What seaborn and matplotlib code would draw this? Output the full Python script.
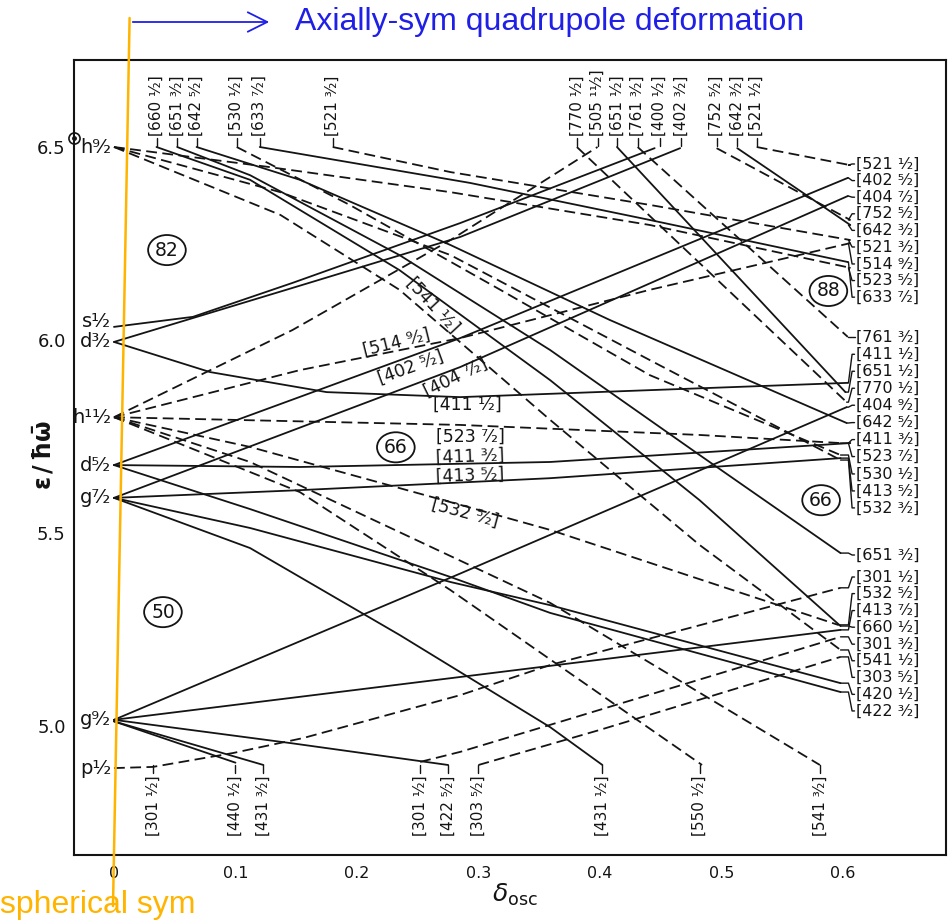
import numpy as np
import pandas as pd
import matplotlib
matplotlib.use("Agg")
import matplotlib.pyplot as plt
import seaborn as sns
from matplotlib.patches import Ellipse, FancyArrowPatch
from matplotlib.lines import Line2D
from matplotlib.ticker import MultipleLocator, FixedLocator

# ---------------- data ----------------
sph_labels = ["h 9/2", "s 1/2", "d 3/2", "h 11/2", "d 5/2", "g 7/2", "g 9/2", "p 1/2"]
sph_label_E = [6.500, 6.047, 5.995, 5.800, 5.676, 5.591, 5.016, 4.891]

orb_names = [
    "[404 9/2]", "[413 7/2]", "[422 5/2]", "[431 3/2]", "[440 1/2]",
    "[402 5/2]", "[411 3/2]", "[413 5/2]", "[404 7/2]", "[431 1/2]",
    "[422 3/2]", "[420 1/2]", "[400 1/2]", "[402 3/2]", "[411 1/2]",
    "[660 1/2]", "[651 3/2]", "[642 5/2]", "[633 7/2]", "[651 1/2]", "[642 3/2]",
    "[541 1/2]", "[532 3/2]", "[523 5/2]", "[530 1/2]", "[521 3/2]", "[521 1/2]",
    "[752 5/2]", "[761 3/2]", "[770 1/2]",
    "[505 11/2]", "[514 9/2]", "[523 7/2]", "[532 5/2]", "[541 3/2]", "[550 1/2]",
    "[301 1/2]", "[301 3/2]", "[303 5/2]",
]
orb_parity = ["+"] * 21 + ["-"] * 18
orb_delta = [
    [0, 0.285, 0.603], [0, 0.285, 0.598], [0, 0.147, 0.275], [0, 0.123], [0, 0.100],
    [0, 0.285, 0.604], [0, 0.153, 0.359, 0.606], [0, 0.153, 0.359, 0.598],
    [0, 0.285, 0.604], [0, 0.112, 0.235, 0.359, 0.402],
    [0, 0.112, 0.277, 0.359, 0.598], [0, 0.112, 0.277, 0.359, 0.598],
    [0, 0.065, 0.147, 0.285, 0.445], [0, 0.147, 0.285, 0.466],
    [0, 0.079, 0.175, 0.285, 0.604],
    [0.035, 0.112, 0.235, 0.359, 0.482, 0.598], [0.052, 0.112, 0.235, 0.359, 0.482, 0.598],
    [0.068, 0.153, 0.277, 0.408, 0.603], [0.120, 0.293, 0.441, 0.604],
    [0.414, 0.602], [0.513, 0.606],
    [0, 0.137, 0.235, 0.359, 0.482, 0.598], [0, 0.137, 0.277, 0.441, 0.598],
    [0, 0.128, 0.277, 0.441, 0.606], [0.101, 0.194, 0.318, 0.441, 0.598],
    [0.180, 0.277, 0.441, 0.606], [0.529, 0.606],
    [0.496, 0.606], [0.431, 0.604], [0.381, 0.603],
    [0, 0.147, 0.277, 0.398], [0, 0.153, 0.285, 0.441, 0.606], [0, 0.285, 0.482, 0.598],
    [0, 0.112, 0.285, 0.359, 0.596], [0, 0.112, 0.359, 0.581], [0, 0.153, 0.277, 0.484],
    [0, 0.032, 0.098, 0.156, 0.285, 0.359, 0.598], [0.252, 0.285, 0.359, 0.598],
    [0.300, 0.400, 0.598],
]
orb_energy = [
    [5.016, 5.395, 5.826], [5.016, 5.127, 5.249], [5.016, 4.955, 4.899], [5.012, 4.899], [5.012, 4.905],
    [5.676, 6.005, 6.420], [5.676, 5.671, 5.684, 5.733], [5.591, 5.611, 5.642, 5.694],
    [5.591, 5.930, 6.373], [5.591, 5.461, 5.236, 4.997, 4.899],
    [5.676, 5.562, 5.386, 5.293, 5.088], [5.591, 5.513, 5.373, 5.313, 5.111],
    [6.034, 6.060, 6.148, 6.303, 6.497], [5.995, 6.135, 6.267, 6.497],
    [5.995, 5.917, 5.865, 5.852, 5.889],
    [6.500, 6.415, 6.181, 5.896, 5.585, 5.259], [6.500, 6.427, 6.220, 5.974, 5.702, 5.448],
    [6.500, 6.415, 6.246, 6.052, 5.785], [6.500, 6.407, 6.311, 6.202],
    [6.500, 5.865], [6.497, 6.298],
    [6.500, 6.324, 6.130, 5.793, 5.469, 5.197], [6.500, 6.383, 6.220, 5.948, 5.689],
    [6.500, 6.448, 6.383, 6.298, 6.187], [6.500, 6.350, 6.130, 5.909, 5.702],
    [6.500, 6.435, 6.350, 6.259], [6.500, 6.453],
    [6.497, 6.311], [6.500, 6.008], [6.500, 5.839],
    [5.800, 6.026, 6.259, 6.500], [5.800, 5.922, 6.005, 6.130, 6.251], [5.800, 5.780, 5.754, 5.733],
    [5.800, 5.723, 5.573, 5.508, 5.262], [5.800, 5.684, 5.319, 4.899], [5.800, 5.606, 5.352, 4.899],
    [4.891, 4.894, 4.930, 4.969, 5.080, 5.158, 5.358], [4.907, 4.933, 5.003, 5.231],
    [4.899, 4.990, 5.179],
]

right_labels = ["[521 1/2]", "[402 5/2]", "[404 7/2]", "[752 5/2]", "[642 3/2]", "[521 3/2]",
                "[514 9/2]", "[523 5/2]", "[633 7/2]", "[761 3/2]", "[411 1/2]", "[651 1/2]",
                "[770 1/2]", "[404 9/2]", "[642 5/2]", "[411 3/2]", "[523 7/2]", "[530 1/2]",
                "[413 5/2]", "[532 3/2]", "[651 3/2]", "[301 1/2]", "[532 5/2]", "[413 7/2]",
                "[660 1/2]", "[301 3/2]", "[541 1/2]", "[303 5/2]", "[420 1/2]", "[422 3/2]"]
right_label_E = [6.456, 6.413, 6.370, 6.327, 6.284, 6.241, 6.197, 6.154, 6.111,
                 6.008, 5.963, 5.919, 5.875, 5.831, 5.786, 5.742, 5.698, 5.653, 5.609, 5.565,
                 5.443,
                 5.386, 5.343, 5.299, 5.256, 5.212, 5.169, 5.126, 5.082, 5.039]

top_labels = ["[660 1/2]", "[651 3/2]", "[642 5/2]", "[530 1/2]", "[633 7/2]", "[521 3/2]",
              "[770 1/2]", "[505 11/2]", "[651 1/2]", "[761 3/2]", "[400 1/2]", "[402 3/2]",
              "[752 5/2]", "[642 3/2]", "[521 1/2]"]
top_label_delta = [0.035, 0.052, 0.068, 0.101, 0.120, 0.180, 0.381, 0.398, 0.414, 0.431,
                   0.449, 0.467, 0.496, 0.513, 0.529]

bottom_labels = ["[301 1/2]", "[440 1/2]", "[431 3/2]", "[301 1/2]", "[422 5/2]", "[303 5/2]",
                 "[431 1/2]", "[550 1/2]", "[541 3/2]"]
bottom_label_delta = [0.032, 0.100, 0.123, 0.252, 0.275, 0.300, 0.402, 0.482, 0.581]

inline_labels = ["[541 1/2]", "[514 9/2]", "[402 5/2]", "[404 7/2]", "[411 1/2]",
                 "[523 7/2]", "[411 3/2]", "[413 5/2]", "[532 5/2]"]
inline_delta = [0.262, 0.233, 0.244, 0.281, 0.291, 0.293, 0.293, 0.293, 0.289]
inline_E = [6.090, 5.992, 5.930, 5.904, 5.832, 5.749, 5.697, 5.650, 5.552]
inline_rot = [-47, 14, 20, 26, 0, 0, 2, 2, -15]

magic_text = ["82", "66", "88", "66", "50"]
magic_delta = [0.0436, 0.232, 0.588, 0.582, 0.0403]
magic_E = [6.233, 5.722, 6.127, 5.585, 5.295]

x_ticks = [0, 0.1, 0.2, 0.3, 0.4, 0.5, 0.6]
x_ticklabels = ["0", "0.1", "0.2", "0.3", "0.4", "0.5", "0.6"]
y_ticks = [5.0, 5.5, 6.0, 6.5]
y_ticklabels = ["5.0", "5.5", "6.0", "6.5"]

# ---------------- helpers ----------------
SUP = str.maketrans("0123456789", "⁰¹²³⁴⁵⁶⁷⁸⁹")
SUB = str.maketrans("0123456789", "₀₁₂₃₄₅₆₇₈₉")


def frac(s):
    num, den = s.split("/")
    return num.translate(SUP) + "\u2044" + den.translate(SUB)


def pretty(lbl):
    inner = lbl.strip("[]")
    code, f = inner.split(" ")
    return "[" + code + " " + frac(f) + "]"


def pretty_sph(lbl):
    l, f = lbl.split(" ")
    return l + frac(f)


# ---------------- figure ----------------
sns.set_theme(style="white")
plt.rcParams["font.family"] = ["DejaVu Sans"]
plt.rcParams["mathtext.fontset"] = "dejavusans"

fig = plt.figure(figsize=(9.49, 9.21), dpi=100)
ax = fig.add_axes([0.07798, 0.07166, 0.91886, 0.86319])
ink = "#141414"

rows = []
for name, par, ds, es in zip(orb_names, orb_parity, orb_delta, orb_energy):
    for d, e in zip(ds, es):
        rows.append((name, par, d, e))
df = pd.DataFrame(rows, columns=["orbital", "parity", "delta", "energy"])

sns.lineplot(data=df, x="delta", y="energy", units="orbital", estimator=None,
             style="parity", dashes={"+": "", "-": (6, 3)}, color=ink,
             linewidth=1.3, sort=False, legend=False, ax=ax)

ends = {n: (ds[-1], es[-1]) for n, ds, es in zip(orb_names, orb_delta, orb_energy)}

# right labels with connectors
for lbl, el in zip(right_labels, right_label_E):
    d0, e0 = ends[lbl]
    ax.plot([d0, 0.6045, 0.6075, 0.6095], [e0, e0, el, el], color=ink, lw=1.0)
    ax.text(0.6105, el, pretty(lbl), fontsize=11.5, ha="left", va="center", color=ink)

# top labels
for lbl, d in zip(top_labels, top_label_delta):
    ax.plot([d, d], [6.503, 6.524], color=ink, lw=1.0)
    ax.text(d, 6.528, pretty(lbl), rotation=90, fontsize=11, ha="center", va="bottom",
            color=ink)

# bottom labels
for lbl, d in zip(bottom_labels, bottom_label_delta):
    ax.plot([d, d], [4.898, 4.877], color=ink, lw=1.0)
    ax.text(d, 4.872, pretty(lbl), rotation=90, fontsize=11, ha="center", va="top",
            color=ink)

# labels along lines
for lbl, d, e, r in zip(inline_labels, inline_delta, inline_E, inline_rot):
    ax.text(d, e, pretty(lbl), rotation=r, fontsize=12.5, ha="center", va="center",
            color=ink, rotation_mode="anchor")

# spherical states
for lbl, e in zip(sph_labels, sph_label_E):
    ax.text(-0.002, e, pretty_sph(lbl), fontsize=14, ha="right", va="center", color=ink)

# magic numbers
for t, d, e in zip(magic_text, magic_delta, magic_E):
    ax.add_patch(Ellipse((d, e), 0.031, 0.078, fill=False, ec=ink, lw=1.3))
    ax.text(d, e, t, fontsize=13.5, ha="center", va="center", color=ink)

# axes styling
ax.set_xlim(-0.0329, 0.6848)
ax.set_ylim(4.6658, 6.7254)
ax.xaxis.set_major_locator(FixedLocator(x_ticks))
ax.set_xticklabels(x_ticklabels)
ax.yaxis.set_major_locator(FixedLocator(y_ticks))
ax.set_yticklabels(y_ticklabels)
ax.yaxis.set_minor_locator(MultipleLocator(0.1))
ax.tick_params(axis="both", which="both", direction="in", length=8, width=1.2,
               colors=ink, labelsize=11.5, top=False, right=False)
ax.tick_params(axis="x", pad=8)
ax.tick_params(axis="y", pad=6, labelsize=13)
for sp in ax.spines.values():
    sp.set_visible(True)
    sp.set_color(ink)
    sp.set_linewidth(1.5)
ax.set_xlabel("")
ax.set_ylabel("")
ax.grid(False)

# origin mark on the energy axis
ax.plot([-0.0329], [6.523], marker="o", ms=8, mfc="white", mec=ink, mew=1.2, clip_on=False)
ax.plot([-0.0329], [6.523], marker="o", ms=2.5, mfc=ink, mec=ink, clip_on=False)

ax.text(-0.034, 0.503, r"$\mathbf{\epsilon\,/\,\hbar\bar{\omega}}$", transform=ax.transAxes,
        rotation=90, fontsize=17, ha="center", va="center", color=ink)
ax.text(0.505, -0.05, r"$\delta_{\mathrm{osc}}$", transform=ax.transAxes,
        fontsize=18, ha="center", va="center", color=ink)

# overlay annotations
W, H = 949.0, 921.0
orange = "#FFB400"
blue = "#1f1fe6"
fig.add_artist(Line2D([129.6 / W, 113 / W], [1 - 18 / H, 1 - 906 / H],
                      transform=fig.transFigure, color=orange, lw=1.8, zorder=10))
fig.add_artist(FancyArrowPatch((130 / W, 1 - 22 / H), (272 / W, 1 - 22 / H),
                               transform=fig.transFigure, arrowstyle="->,head_length=0.7,head_width=0.35",
                               mutation_scale=20, color=blue, lw=1.3, zorder=10))
fig.text(295 / W, 1 - 22 / H, "Axially-sym quadrupole deformation", color=blue,
         fontsize=23, family=["Liberation Sans", "DejaVu Sans"], ha="left", va="center")
fig.text(0 / W, 1 - 905 / H, "spherical sym", color=orange,
         fontsize=23, family=["Liberation Sans", "DejaVu Sans"], ha="left", va="center")

fig.savefig("out.png", dpi=100)
